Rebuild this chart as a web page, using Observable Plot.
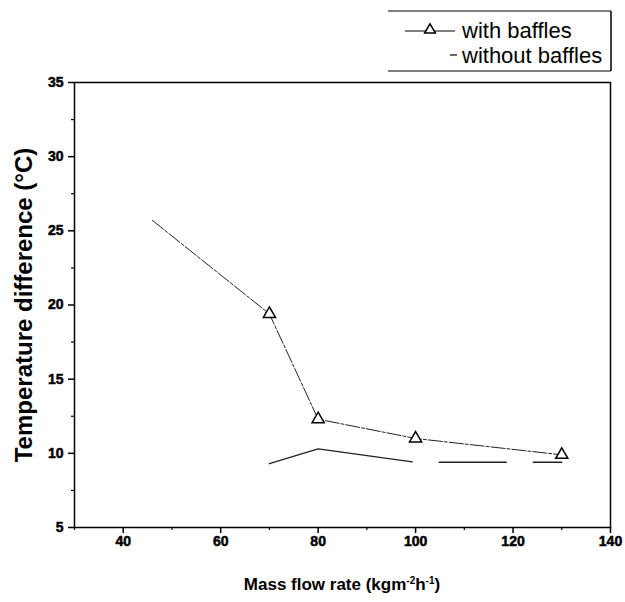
<!DOCTYPE html>
<html>
<head>
<meta charset="utf-8">
<script src="https://cdn.jsdelivr.net/npm/d3@7"></script>
<script src="https://cdn.jsdelivr.net/npm/@observablehq/plot@0.6"></script>
<style>
  html, body { margin: 0; padding: 0; background: #fff; }
  #chart svg { display: block; }
</style>
</head>
<body>
<div id="chart"></div>
<script>
// Data
const withFlow = [46, 70, 80, 100, 130];
const withTemp = [25.7, 19.4, 12.3, 11.0, 9.9];
const withoutFlow = [70, 80, 100, 130];
const withoutTemp = [9.3, 10.3, 9.4, 9.4];
const seriesNames = ["with baffles", "without baffles"];
const xTicks = [40, 60, 80, 100, 120, 140];
const yTicks = [5, 10, 15, 20, 25, 30, 35];
const yMinor = [7.5, 12.5, 17.5, 22.5, 27.5, 32.5];
const xMinor = [30, 50, 70, 90, 110, 130];

const withData = withFlow.map((x, i) => ({x, y: withTemp[i], i}));
const withoutData = withoutFlow.map((x, i) => ({x, y: withoutTemp[i], i}));

const font = "'Liberation Sans', Arial, sans-serif";

const chart = Plot.plot({
  width: 625,
  height: 602,
  marginLeft: 74,
  marginRight: 15,
  marginTop: 82,
  marginBottom: 75,
  style: {fontFamily: font, background: "#fff", color: "#000"},
  x: {domain: [30, 140]},
  y: {domain: [5, 35]},
  marks: [
    Plot.frame({stroke: "#000", strokeWidth: 1.5}),
    Plot.axisY({ticks: yTicks, tickSize: 6, text: null, label: null, strokeWidth: 1.5}),
    Plot.axisY({ticks: yMinor, tickSize: 3, text: null, label: null, strokeWidth: 1.2}),
    Plot.axisX({ticks: xTicks, tickSize: 6, text: null, label: null, strokeWidth: 1.5}),
    Plot.axisX({ticks: xMinor, tickSize: 3, text: null, label: null, strokeWidth: 1.2}),
    Plot.text(yTicks, {y: d => d, text: d => String(d), frameAnchor: "left", dx: -11, textAnchor: "end",
      fontSize: 14, fontWeight: "bold", fill: "#000", stroke: "#000", strokeWidth: 0.5}),
    Plot.text(xTicks, {x: d => d, text: d => String(d), frameAnchor: "bottom", dy: 18,
      fontSize: 14, fontWeight: "bold", fill: "#000", stroke: "#000", strokeWidth: 0.5}),
    Plot.line(withData, {x: "x", y: "y", stroke: "#222", strokeWidth: 1, strokeDasharray: "14,2,3,2"}),
    Plot.dot(withData.filter(d => d.i > 0), {x: "x", y: "y", symbol: "triangle", r: 4.5, stroke: "#000", strokeWidth: 1.5, fill: "#fff"}),
    Plot.line(withoutData, {x: "x", y: "y", stroke: "#222", strokeWidth: 1.3, strokeDasharray: "146,27,67,27,30"})
  ]
});

const svg = d3.select(chart);

// Axis titles
svg.append("text")
  .attr("transform", "translate(32,305) rotate(-90)")
  .attr("text-anchor", "middle")
  .attr("font-family", font).attr("font-weight", "bold").attr("font-size", 24)
  .text("Temperature difference (°C)");

const xt = svg.append("text")
  .attr("x", 342).attr("y", 590)
  .attr("text-anchor", "middle")
  .attr("font-family", font).attr("font-weight", "bold").attr("font-size", 17);
xt.append("tspan").text("Mass flow rate (kgm");
xt.append("tspan").attr("dy", -6).attr("font-size", 10).text("-2");
xt.append("tspan").attr("dy", 6).text("h");
xt.append("tspan").attr("dy", -6).attr("font-size", 10).text("-1");
xt.append("tspan").attr("dy", 6).text(")");

// Legend
const lg = svg.append("g").attr("font-family", font).attr("font-size", 22).attr("text-anchor", "start");
lg.append("line").attr("x1", 388).attr("x2", 611).attr("y1", 11).attr("y2", 11).attr("stroke", "#000").attr("stroke-width", 1.2);
lg.append("line").attr("x1", 388).attr("x2", 611).attr("y1", 71).attr("y2", 71).attr("stroke", "#000").attr("stroke-width", 1.2);
lg.append("line").attr("x1", 611).attr("x2", 611).attr("y1", 11).attr("y2", 71).attr("stroke", "#000").attr("stroke-width", 1.5);
lg.append("line").attr("x1", 405).attr("x2", 455).attr("y1", 31).attr("y2", 31).attr("stroke", "#000").attr("stroke-width", 1.2);
lg.append("path").attr("d", d3.symbol(d3.symbolTriangle, 50)()).attr("transform", "translate(430,30)")
  .attr("fill", "#fff").attr("stroke", "#000").attr("stroke-width", 1.5);
lg.append("text").attr("x", 462).attr("y", 38).text(seriesNames[0]);
lg.append("line").attr("x1", 450).attr("x2", 457).attr("y1", 55).attr("y2", 55).attr("stroke", "#000").attr("stroke-width", 1.2);
lg.append("text").attr("x", 462).attr("y", 63).text(seriesNames[1]);

document.getElementById("chart").appendChild(chart);
</script>
</body>
</html>
